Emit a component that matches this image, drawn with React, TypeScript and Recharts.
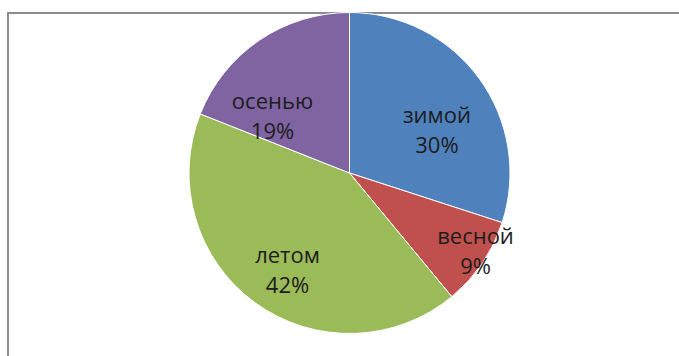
import React from "react";
import { PieChart, Pie, Cell } from "recharts";

const seasons = ["зимой", "весной", "летом", "осенью"];
const shares = [30, 9, 42, 19];
const colors = ["#4F81BD", "#C0504D", "#9BBB59", "#8064A2"];

const data = seasons.map((name, i) => ({ name, value: shares[i] }));

// label placement tweaks (angle offset in degrees, radius fraction) mimicking Excel's best-fit
const labelAngleShift = [-10.6, 2, 3.8, 19.8];
const labelRadiusFrac = [0.603, 0.928, 0.725, 0.593];

const RAD = Math.PI / 180;

const renderLabel = (props: any) => {
  const { cx, cy, midAngle, outerRadius, index, name, value } = props;
  const a = (midAngle + labelAngleShift[index]) * RAD;
  const r = outerRadius * labelRadiusFrac[index];
  const x = cx + r * Math.cos(a);
  const y = cy - r * Math.sin(a);
  return (
    <text
      x={x}
      y={y}
      textAnchor="middle"
      fill="#1c1c1c"
      fontFamily="'Open Sans', sans-serif"
      fontSize={22}
    >
      <tspan x={x} y={y - 8.5}>{name}</tspan>
      <tspan x={x} y={y + 21.5}>{value}%</tspan>
    </text>
  );
};

export default function App() {
  return (
    <div
      style={{
        position: "absolute",
        left: 0,
        top: 0,
        width: 679,
        height: 356,
        overflow: "hidden",
        background: "#fff",
      }}
    >
      <div
        style={{
          position: "absolute",
          left: 7,
          top: 12,
          width: 720,
          height: 400,
          borderTop: "2.5px solid #8c8c8c",
          borderLeft: "2.5px solid #8c8c8c",
        }}
      />
      <div style={{ position: "absolute", left: 0, top: 0 }}>
        <PieChart width={679} height={356} margin={{ top: 0, right: 0, bottom: 0, left: 0 }}>
          <Pie
            data={data}
            dataKey="value"
            nameKey="name"
            cx={349.5}
            cy={173}
            outerRadius={160.5}
            startAngle={90}
            endAngle={-270}
            stroke="#ffffff"
            strokeWidth={1}
            labelLine={false}
            label={renderLabel}
            isAnimationActive={false}
          >
            {data.map((d, i) => (
              <Cell key={d.name} fill={colors[i]} />
            ))}
          </Pie>
        </PieChart>
      </div>
    </div>
  );
}
